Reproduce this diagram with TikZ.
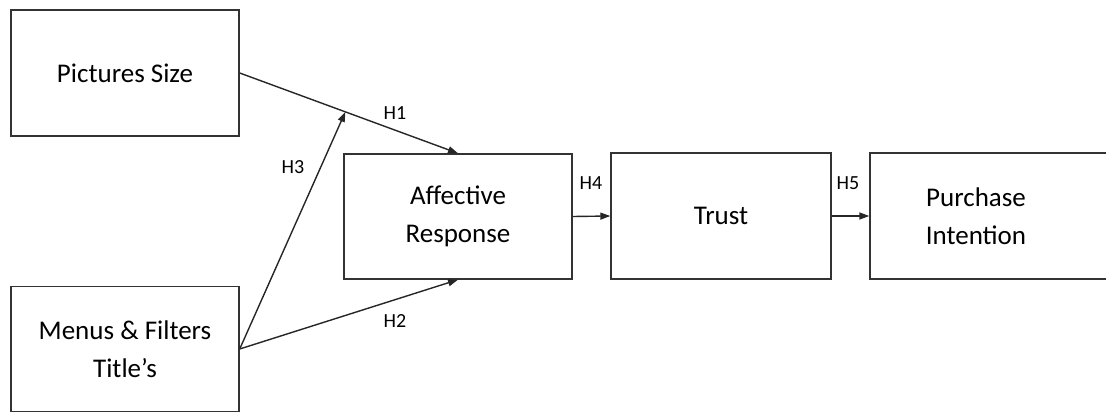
\documentclass[tikz,border=0pt]{standalone}
\usepackage{fontspec}
\setmainfont{Carlito}
\usetikzlibrary{arrows.meta,calc}

\begin{document}
\begin{tikzpicture}[x=1pt, y=-1pt]
\useasboundingbox (0,0) rectangle (1106,412);
\node[shape=rectangle, draw=black!80, line width=1.4pt, minimum width=228pt, minimum height=126pt, align=center, font=\fontsize{27}{38}\selectfont] (ps) at (125,73) {Pictures Size};
\node[shape=rectangle, draw=black!80, line width=1.4pt, minimum width=228pt, minimum height=125pt, align=center, font=\fontsize{27}{38}\selectfont] (mf) at (125,349) {Menus \& Filters\\Title’s};
\node[shape=rectangle, draw=black!80, line width=1.4pt, minimum width=228pt, minimum height=125pt, align=center, font=\fontsize{27}{38}\selectfont] (ar) at (458,216.5) {Affective\\Response};
\node[shape=rectangle, draw=black!80, line width=1.4pt, minimum width=220pt, minimum height=126pt, align=center, font=\fontsize{27}{38}\selectfont] (tr) at (721,216) {Trust};
\node[shape=rectangle, draw=black!80, line width=1.4pt, minimum width=240pt, minimum height=126pt, align=center, font=\fontsize{27}{38}\selectfont] (pi) at (990,216) {\hspace*{-28pt}Purchase\\\hspace*{-28pt}Intention};
\coordinate (h3) at ($(ps.east)!0.484!(ar.north)$);
\draw [-{Triangle[length=10pt,width=7pt]}, line width=1.4pt, draw=black!85] (ps.east) -- (ar.north);
\draw [-{Triangle[length=10pt,width=7pt]}, line width=1.4pt, draw=black!85] (mf.east) -- (ar.south);
\draw [-{Triangle[length=10pt,width=7pt]}, line width=1.4pt, draw=black!85] (mf.east) -- (h3);
\draw [-{Triangle[length=10pt,width=7pt]}, line width=1.4pt, draw=black!85] (ar.east) -- (tr.west);
\draw [-{Triangle[length=10pt,width=7pt]}, line width=1.4pt, draw=black!85] (tr.east) -- (pi.west);
\node[font=\fontsize{20}{24}\selectfont] (l1) at (395,113) {H1};
\node[font=\fontsize{20}{24}\selectfont] (l2) at (395,321) {H2};
\node[font=\fontsize{20}{24}\selectfont] (l3) at (293,167) {H3};
\node[font=\fontsize{20}{24}\selectfont] (l4) at (591,183) {H4};
\node[font=\fontsize{20}{24}\selectfont] (l5) at (848,183) {H5};
\end{tikzpicture}
\end{document}
